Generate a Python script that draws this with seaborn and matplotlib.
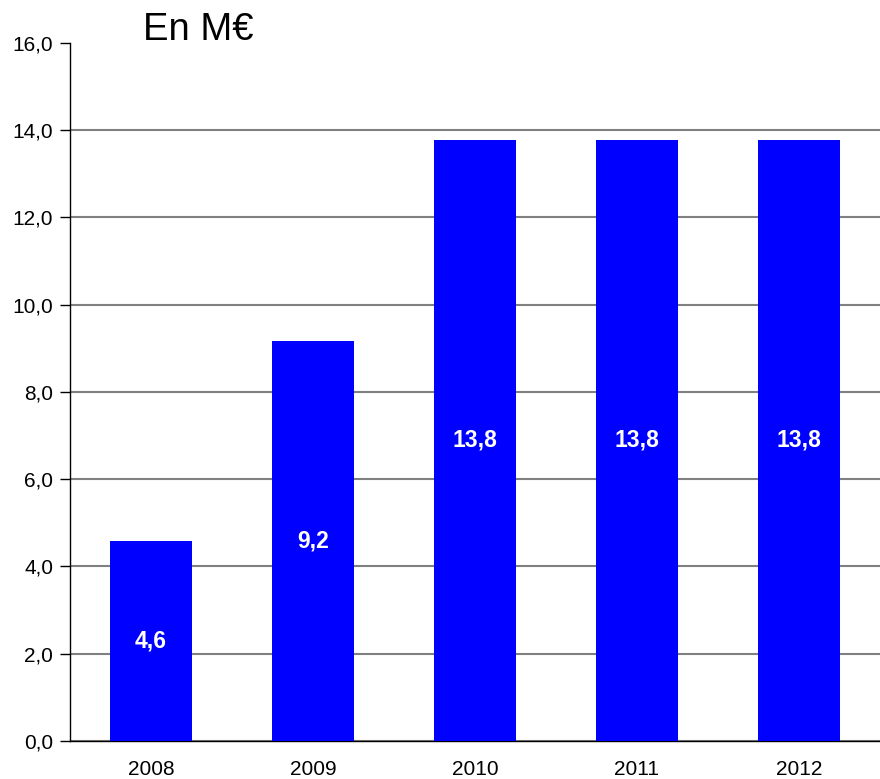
import pandas as pd
import numpy as np
import matplotlib.pyplot as plt
import seaborn as sns

# data
years = ['2008', '2009', '2010', '2011', '2012']
values = [4.58, 9.17, 13.78, 13.78, 13.78]
y_ticks = [0, 2, 4, 6, 8, 10, 12, 14, 16]

df = pd.DataFrame({'year': years, 'value': values})

sns.set_style("white")
plt.rcParams['font.family'] = ['Liberation Sans', 'DejaVu Sans']
plt.rcParams['text.color'] = 'black'
plt.rcParams['xtick.color'] = 'black'
plt.rcParams['ytick.color'] = 'black'

fig = plt.figure(figsize=(8.8, 7.79), dpi=100)
ax = fig.add_axes([0.0795, 0.0488, 0.9205, 0.896])

sns.barplot(x='year', y='value', data=df, color='#0000FF', saturation=1,
            width=0.51, linewidth=0, ax=ax, zorder=3)

# labels in the middle of bars
for i, v in enumerate(values):
    ax.text(i, v / 2, f"{v:.1f}".replace('.', ','), ha='center', va='center',
            color='white', fontsize=16.5, fontweight='bold', zorder=4)

ax.set_ylim(0, 16)
ax.set_xlim(-0.5, 4.5)
ax.set_yticks(y_ticks)
ax.set_yticklabels([f"{t:.1f}".replace('.', ',') for t in y_ticks], fontsize=15)
ax.set_xticks(range(len(years)))
ax.set_xticklabels(years, fontsize=15)
ax.set_xticks(np.arange(-0.5, 5.0, 1.0), minor=True)
ax.tick_params(axis='x', which='major', length=0, pad=14)
ax.tick_params(axis='x', which='minor', length=6, width=1, color='black', direction='out')
ax.tick_params(axis='y', length=7, width=1, color='black', direction='out', left=True, pad=5)
ax.set_xlabel('')
ax.set_ylabel('')

ax.grid(axis='y', color='#808080', linewidth=1.5, zorder=0)
ax.set_axisbelow(True)
ax.yaxis.get_gridlines()[-1].set_visible(False)

for s in ['top', 'right']:
    ax.spines[s].set_visible(False)
for s in ['left', 'bottom']:
    ax.spines[s].set_color('black')
    ax.spines[s].set_linewidth(1)

fig.text(0.1625, 0.962, "En M€", fontsize=27.5, ha='left', va='center', color='black')

fig.savefig("out.png", dpi=100)
